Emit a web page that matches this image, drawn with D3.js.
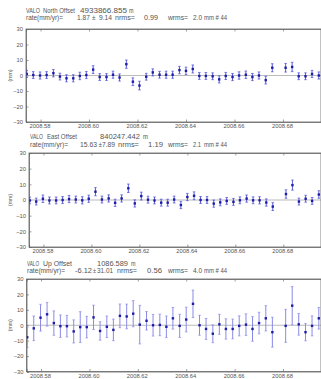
<!DOCTYPE html>
<html><head><meta charset="utf-8">
<script src="https://cdn.jsdelivr.net/npm/d3@7"></script>
<style>
html,body{margin:0;padding:0;background:#fff;}
svg{display:block;font-family:"Liberation Sans",Arial,sans-serif;}
</style></head>
<body><svg id="c" width="321" height="379"></svg>
<script>
// decimal-year epochs (one day per point, one day missing)
const epochs = [2008.5743, 2008.5770, 2008.5798, 2008.5825, 2008.5853, 2008.5880, 2008.5907, 2008.5935, 2008.5962, 2008.5989,
  2008.6017, 2008.6044, 2008.6072, 2008.6099, 2008.6126, 2008.6154, 2008.6181, 2008.6208, 2008.6236, 2008.6263,
  2008.6291, 2008.6318, 2008.6345, 2008.6373, 2008.6400, 2008.6428, 2008.6455, 2008.6482, 2008.6510, 2008.6537,
  2008.6564, 2008.6592, 2008.6619, 2008.6647, 2008.6674, 2008.6701, 2008.6729, 2008.6756, 2008.6811, 2008.6838,
  2008.6865, 2008.6893, 2008.6920, 2008.6948];

const northValues = [1.0, 0.3, 0.0, 0.3, 1.5, -0.7, -1.8, -1.8, -0.3, 0.3, 3.8, -1.0, -1.0, 0.5, -1.3, 7.3, -4.0, -6.5, -0.8, 2.0, 0.5, 0.5,
  0.5, 3.5, 3.0, 4.2, -0.3, -0.3, -0.5, -2.5, -0.3, -1.0, 0.0, 0.5, -1.0, 0.0, -3.0, 5.0,
  5.0, 5.5, -0.5, -0.5, 1.0, 0.0];
const northSigma = [2.3, 2.2, 2.3, 2.2, 2.4, 2.2, 2.3, 2.3, 2.4, 2.3, 2.5, 2.2, 2.2, 2.3, 2.3, 2.7, 2.5, 2.8, 2.2, 2.3, 2.2, 2.3,
  2.3, 2.4, 2.4, 2.6, 2.2, 2.2, 2.2, 2.3, 2.3, 2.3, 2.4, 2.4, 2.3, 2.3, 2.5, 2.6,
  2.8, 3.0, 2.2, 2.2, 2.3, 2.3];

const eastValues = [-0.3, -1.0, 0.8, -0.3, -0.3, 0.0, 0.6, 0.3, -0.2, 0.8, 5.3, 0.3, 1.0, -1.8, 1.0, 7.5, -2.2, 2.5, 0.2, -0.3, -1.7, -1.7,
  0.3, -3.2, 1.9, 2.7, 0.0, 0.0, -2.3, -1.5, -0.6, -1.2, -0.2, 0.9, -0.2, -0.2, -1.6, -4.2,
  3.8, 9.5, -1.0, 0.8, -0.6, 3.5];
const eastSigma = [2.2, 2.2, 2.4, 2.2, 2.2, 2.2, 2.3, 2.2, 2.3, 2.3, 2.6, 2.2, 2.3, 2.3, 2.3, 2.7, 2.3, 2.5, 2.2, 2.2, 2.2, 2.2,
  2.2, 2.3, 2.3, 2.5, 2.2, 2.2, 2.3, 2.2, 2.2, 2.2, 2.2, 2.3, 2.2, 2.3, 2.3, 2.5,
  2.7, 3.2, 2.2, 2.2, 2.2, 2.4];

const upValues = [-7.8, -2.0, 4.9, 7.1, 1.4, -0.6, -0.6, -4.0, -1.2, -1.2, 5.1, -3.7, -1.0, -3.0, 6.1, 5.7, 7.5, 0.4, 2.9, 0.0, 0.2, -1.0,
  4.5, -0.4, 3.7, 13.9, 0.0, -2.4, -5.5, 0.6, -2.4, -2.4, -0.4, 0.4, -2.4, 1.4, 4.5, -4.5,
  -0.4, 12.7, 0.6, -4.5, -0.4, 4.5];
const upSigma = [6.6, 8.0, 8.7, 7.7, 7.9, 7.3, 7.0, 7.5, 10.0, 7.0, 7.9, 6.0, 7.0, 7.0, 7.7, 8.0, 8.5, 12.5, 6.0, 7.0, 7.0, 7.0,
  7.0, 7.5, 8.0, 8.9, 6.5, 6.8, 5.8, 6.5, 6.6, 6.4, 6.5, 7.0, 8.0, 7.0, 8.2, 9.7,
  10.7, 12.4, 7.0, 5.6, 6.5, 7.0];

const xTicks = [2008.58, 2008.60, 2008.62, 2008.64, 2008.66, 2008.68];
const yTicks = [-30, -20, -10, 0, 10, 20, 30];
const xDomain = [2008.5740, 2008.6957];
const yDomain = [-30, 30];

// title pieces: [text, x, width]
const panels = [
  { values: northValues, sigma: northSigma, top: 29, bottom: 122, left: 26, right: 321, t1: 12.8, t2: 20.4,
    line1: [["VALO", 26, 14], ["North Offset", 43, 32], ["4933866.855", 80, 47], ["m", 129, 4.5]],
    line2: [["rate(mm/yr)=", 26, 37], ["1.87", 77, 13], ["±", 92, 3.5], ["9.14", 99, 13], ["nrms=", 115, 20], ["0.99", 144, 14], ["wrms=", 168, 20], ["2.0", 193, 9], ["mm # 44", 204, 23]],
    bar: "#4a4ad8", barW: 0.9 },
  { values: eastValues, sigma: eastSigma, top: 153, bottom: 247, left: 29, right: 321, t1: 138.9, t2: 146.5,
    line1: [["VALO", 30, 13], ["East Offset", 47, 30], ["840247.442", 100, 40], ["m", 143, 5]],
    line2: [["rate(mm/yr)=", 30, 38], ["15.63", 80, 17], ["±", 98.5, 3.5], ["7.89", 102, 13], ["nrms=", 118, 21], ["1.19", 148, 15], ["wrms=", 168, 20], ["2.1", 193, 8], ["mm # 44", 204, 23]],
    bar: "#4a4ad8", barW: 0.9 },
  { values: upValues, sigma: upSigma, top: 279, bottom: 371.5, left: 26.5, right: 321, t1: 265.5, t2: 273.2,
    line1: [["VALO", 27, 12], ["Up Offset", 43, 29], ["1086.589", 97, 31], ["m", 131, 4.5]],
    line2: [["rate(mm/yr)=", 27, 38], ["-6.12", 75, 17], ["±", 93, 3], ["31.01", 97, 16], ["nrms=", 117, 20], ["0.56", 147, 15], ["wrms=", 168, 20], ["4.0", 193, 9], ["mm # 44", 204, 23]],
    bar: "#8a8ae8", barW: 1.0 }
];

const svg = d3.select("#c");
const txt = "#555";

panels.forEach((p, pi) => {
  const x = d3.scaleLinear().domain(xDomain).range([p.left, p.right]);
  const y = d3.scaleLinear().domain(yDomain).range([p.bottom, p.top]);
  const g = svg.append("g");

  // titles
  [[p.line1, p.t1], [p.line2, p.t2]].forEach(([pieces, ty]) => {
    pieces.forEach(([t, tx, w]) => g.append("text").attr("x", tx).attr("y", ty)
      .attr("font-size", 6.6).attr("fill", txt)
      .attr("textLength", w).attr("lengthAdjust", "spacingAndGlyphs").text(t));
  });

  const clipId = "clip" + pi;
  svg.append("clipPath").attr("id", clipId).append("rect")
    .attr("x", p.left).attr("y", p.top).attr("width", p.right - p.left).attr("height", p.bottom - p.top);

  // zero line
  g.append("line").attr("x1", p.left).attr("x2", p.right).attr("y1", y(0)).attr("y2", y(0))
    .attr("stroke", "#aaa").attr("stroke-width", 0.8);

  // axes
  const axL = d3.axisLeft(y).tickValues(yTicks).tickSize(-2.5).tickPadding(3).tickFormat(d3.format("d"));
  const gl = g.append("g").attr("transform", `translate(${p.left},0)`).call(axL);
  const axB = d3.axisBottom(x).tickValues(xTicks).tickSize(-2.5).tickPadding(2).tickFormat(d3.format(".2f"));
  const gb = g.append("g").attr("transform", `translate(0,${p.bottom})`).call(axB);
  const axT = d3.axisTop(x).tickValues(xTicks).tickSize(-2.5).tickFormat("");
  const gt = g.append("g").attr("transform", `translate(0,${p.top})`).call(axT);
  [gl, gb, gt].forEach(a => {
    a.select(".domain").attr("stroke", "#666").attr("stroke-width", 0.8);
    a.selectAll(".tick line").attr("stroke", "#777").attr("stroke-width", 0.7);
    a.selectAll(".tick text").attr("font-size", 5.8).attr("fill", txt).attr("font-family", "Liberation Sans, Arial, sans-serif");
  });
  gb.selectAll(".tick text").attr("dx", "-1");

  // y label
  g.append("text").attr("transform", `translate(11.5,${y(0)}) rotate(-90)`).attr("text-anchor", "middle")
    .attr("font-size", 5.2).attr("fill", txt).text("(mm)");

  // data
  const pts = epochs.map((e, i) => ({ e, v: p.values[i], s: p.sigma[i] }));
  const dg = g.append("g").attr("clip-path", `url(#${clipId})`);
  const cap = 1.3;
  dg.selectAll("line.err").data(pts).join("line").attr("class", "err")
    .attr("x1", d => x(d.e)).attr("x2", d => x(d.e))
    .attr("y1", d => y(d.v - d.s)).attr("y2", d => y(d.v + d.s))
    .attr("stroke", p.bar).attr("stroke-width", p.barW);
  dg.selectAll("line.capT").data(pts).join("line").attr("class", "capT")
    .attr("x1", d => x(d.e) - cap).attr("x2", d => x(d.e) + cap)
    .attr("y1", d => y(d.v + d.s)).attr("y2", d => y(d.v + d.s))
    .attr("stroke", p.bar).attr("stroke-width", 0.7);
  dg.selectAll("line.capB").data(pts).join("line").attr("class", "capB")
    .attr("x1", d => x(d.e) - cap).attr("x2", d => x(d.e) + cap)
    .attr("y1", d => y(d.v - d.s)).attr("y2", d => y(d.v - d.s))
    .attr("stroke", p.bar).attr("stroke-width", 0.7);
  dg.selectAll("rect.pt").data(pts).join("rect").attr("class", "pt")
    .attr("x", d => x(d.e) - 1.2).attr("y", d => y(d.v) - 1.2)
    .attr("width", 2.4).attr("height", 2.4).attr("fill", "#1c1ca8");

  // frame
  g.append("rect").attr("x", p.left).attr("y", p.top).attr("width", p.right - p.left).attr("height", p.bottom - p.top)
    .attr("fill", "none").attr("stroke", "#666").attr("stroke-width", 0.8);
});
</script></body></html>
